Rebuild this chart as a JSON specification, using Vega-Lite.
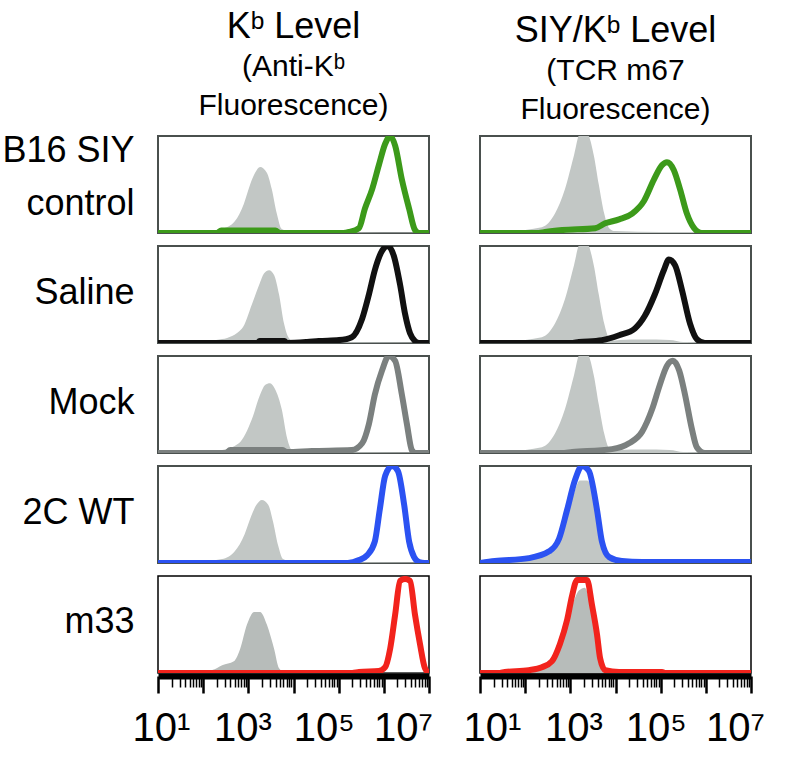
{
  "$schema": "https://vega.github.io/schema/vega-lite/v6.json",
  "background": "white",
  "padding": {"left": 0, "top": 8, "right": 5, "bottom": 5},
  "bounds": "flush",
  "columns": 2,
  "spacing": {"row": 13, "column": 51},
  "config": {"font": "Liberation Sans"},
  "datasets": {
    "hist": [
      {"sample":"B16","marker":"Kb","series":"ctrl","log10":1.0,"count":0.01},
      {"sample":"B16","marker":"Kb","series":"ctrl","log10":1.75,"count":0.01},
      {"sample":"B16","marker":"Kb","series":"ctrl","log10":2.2,"count":0.02},
      {"sample":"B16","marker":"Kb","series":"ctrl","log10":2.42,"count":0.04},
      {"sample":"B16","marker":"Kb","series":"ctrl","log10":2.7,"count":0.12},
      {"sample":"B16","marker":"Kb","series":"ctrl","log10":2.9,"count":0.3},
      {"sample":"B16","marker":"Kb","series":"ctrl","log10":3.04,"count":0.5},
      {"sample":"B16","marker":"Kb","series":"ctrl","log10":3.15,"count":0.62},
      {"sample":"B16","marker":"Kb","series":"ctrl","log10":3.26,"count":0.68},
      {"sample":"B16","marker":"Kb","series":"ctrl","log10":3.41,"count":0.62},
      {"sample":"B16","marker":"Kb","series":"ctrl","log10":3.52,"count":0.45},
      {"sample":"B16","marker":"Kb","series":"ctrl","log10":3.63,"count":0.2},
      {"sample":"B16","marker":"Kb","series":"ctrl","log10":3.74,"count":0.04},
      {"sample":"B16","marker":"Kb","series":"ctrl","log10":3.97,"count":0.01},
      {"sample":"B16","marker":"Kb","series":"ctrl","log10":5.0,"count":0.008},
      {"sample":"B16","marker":"Kb","series":"ctrl","log10":7.0,"count":0.005},
      {"sample":"B16","marker":"Kb","series":"stain","log10":1.0,"count":0},
      {"sample":"B16","marker":"Kb","series":"stain","log10":2.3,"count":0},
      {"sample":"B16","marker":"Kb","series":"stain","log10":2.4,"count":0.025},
      {"sample":"B16","marker":"Kb","series":"stain","log10":3.6,"count":0.025},
      {"sample":"B16","marker":"Kb","series":"stain","log10":3.7,"count":0},
      {"sample":"B16","marker":"Kb","series":"stain","log10":5.1,"count":0},
      {"sample":"B16","marker":"Kb","series":"stain","log10":5.23,"count":0.01},
      {"sample":"B16","marker":"Kb","series":"stain","log10":5.45,"count":0.05},
      {"sample":"B16","marker":"Kb","series":"stain","log10":5.58,"count":0.25},
      {"sample":"B16","marker":"Kb","series":"stain","log10":5.74,"count":0.45},
      {"sample":"B16","marker":"Kb","series":"stain","log10":5.89,"count":0.7},
      {"sample":"B16","marker":"Kb","series":"stain","log10":6.03,"count":0.92},
      {"sample":"B16","marker":"Kb","series":"stain","log10":6.14,"count":1.0},
      {"sample":"B16","marker":"Kb","series":"stain","log10":6.25,"count":0.9},
      {"sample":"B16","marker":"Kb","series":"stain","log10":6.4,"count":0.55},
      {"sample":"B16","marker":"Kb","series":"stain","log10":6.56,"count":0.25},
      {"sample":"B16","marker":"Kb","series":"stain","log10":6.69,"count":0.03},
      {"sample":"B16","marker":"Kb","series":"stain","log10":6.78,"count":0},
      {"sample":"B16","marker":"Kb","series":"stain","log10":7.0,"count":0},

      {"sample":"B16","marker":"SIY","series":"ctrl","log10":1.0,"count":0.01},
      {"sample":"B16","marker":"SIY","series":"ctrl","log10":1.64,"count":0.02},
      {"sample":"B16","marker":"SIY","series":"ctrl","log10":2.37,"count":0.06},
      {"sample":"B16","marker":"SIY","series":"ctrl","log10":2.66,"count":0.2},
      {"sample":"B16","marker":"SIY","series":"ctrl","log10":2.88,"count":0.45},
      {"sample":"B16","marker":"SIY","series":"ctrl","log10":3.08,"count":0.8},
      {"sample":"B16","marker":"SIY","series":"ctrl","log10":3.21,"count":1.02},
      {"sample":"B16","marker":"SIY","series":"ctrl","log10":3.37,"count":1.02},
      {"sample":"B16","marker":"SIY","series":"ctrl","log10":3.52,"count":0.8},
      {"sample":"B16","marker":"SIY","series":"ctrl","log10":3.63,"count":0.5},
      {"sample":"B16","marker":"SIY","series":"ctrl","log10":3.75,"count":0.2},
      {"sample":"B16","marker":"SIY","series":"ctrl","log10":3.86,"count":0.05},
      {"sample":"B16","marker":"SIY","series":"ctrl","log10":3.99,"count":0.02},
      {"sample":"B16","marker":"SIY","series":"ctrl","log10":5.0,"count":0.01},
      {"sample":"B16","marker":"SIY","series":"ctrl","log10":5.91,"count":0.01},
      {"sample":"B16","marker":"SIY","series":"ctrl","log10":7.0,"count":0.005},
      {"sample":"B16","marker":"SIY","series":"stain","log10":1.0,"count":0},
      {"sample":"B16","marker":"SIY","series":"stain","log10":2.3,"count":0},
      {"sample":"B16","marker":"SIY","series":"stain","log10":2.44,"count":0.01},
      {"sample":"B16","marker":"SIY","series":"stain","log10":2.82,"count":0.03},
      {"sample":"B16","marker":"SIY","series":"stain","log10":3.55,"count":0.05},
      {"sample":"B16","marker":"SIY","series":"stain","log10":3.77,"count":0.1},
      {"sample":"B16","marker":"SIY","series":"stain","log10":4.08,"count":0.14},
      {"sample":"B16","marker":"SIY","series":"stain","log10":4.37,"count":0.2},
      {"sample":"B16","marker":"SIY","series":"stain","log10":4.63,"count":0.33},
      {"sample":"B16","marker":"SIY","series":"stain","log10":4.85,"count":0.55},
      {"sample":"B16","marker":"SIY","series":"stain","log10":5.03,"count":0.7},
      {"sample":"B16","marker":"SIY","series":"stain","log10":5.14,"count":0.73},
      {"sample":"B16","marker":"SIY","series":"stain","log10":5.29,"count":0.65},
      {"sample":"B16","marker":"SIY","series":"stain","log10":5.43,"count":0.45},
      {"sample":"B16","marker":"SIY","series":"stain","log10":5.58,"count":0.2},
      {"sample":"B16","marker":"SIY","series":"stain","log10":5.74,"count":0.05},
      {"sample":"B16","marker":"SIY","series":"stain","log10":5.91,"count":0},
      {"sample":"B16","marker":"SIY","series":"stain","log10":7.0,"count":0},

      {"sample":"Saline","marker":"Kb","series":"ctrl","log10":1.0,"count":0.01},
      {"sample":"Saline","marker":"Kb","series":"ctrl","log10":1.75,"count":0.01},
      {"sample":"Saline","marker":"Kb","series":"ctrl","log10":2.42,"count":0.04},
      {"sample":"Saline","marker":"Kb","series":"ctrl","log10":2.86,"count":0.15},
      {"sample":"Saline","marker":"Kb","series":"ctrl","log10":3.08,"count":0.4},
      {"sample":"Saline","marker":"Kb","series":"ctrl","log10":3.24,"count":0.6},
      {"sample":"Saline","marker":"Kb","series":"ctrl","log10":3.35,"count":0.72},
      {"sample":"Saline","marker":"Kb","series":"ctrl","log10":3.46,"count":0.75},
      {"sample":"Saline","marker":"Kb","series":"ctrl","log10":3.57,"count":0.7},
      {"sample":"Saline","marker":"Kb","series":"ctrl","log10":3.68,"count":0.5},
      {"sample":"Saline","marker":"Kb","series":"ctrl","log10":3.79,"count":0.2},
      {"sample":"Saline","marker":"Kb","series":"ctrl","log10":3.9,"count":0.05},
      {"sample":"Saline","marker":"Kb","series":"ctrl","log10":4.03,"count":0.01},
      {"sample":"Saline","marker":"Kb","series":"ctrl","log10":7.0,"count":0.005},
      {"sample":"Saline","marker":"Kb","series":"stain","log10":1.0,"count":0},
      {"sample":"Saline","marker":"Kb","series":"stain","log10":3.2,"count":0},
      {"sample":"Saline","marker":"Kb","series":"stain","log10":3.25,"count":0.02},
      {"sample":"Saline","marker":"Kb","series":"stain","log10":3.8,"count":0.02},
      {"sample":"Saline","marker":"Kb","series":"stain","log10":3.85,"count":0},
      {"sample":"Saline","marker":"Kb","series":"stain","log10":4.3,"count":0.01},
      {"sample":"Saline","marker":"Kb","series":"stain","log10":4.56,"count":0.02},
      {"sample":"Saline","marker":"Kb","series":"stain","log10":5.01,"count":0.03},
      {"sample":"Saline","marker":"Kb","series":"stain","log10":5.29,"count":0.06},
      {"sample":"Saline","marker":"Kb","series":"stain","log10":5.52,"count":0.25},
      {"sample":"Saline","marker":"Kb","series":"stain","log10":5.67,"count":0.5},
      {"sample":"Saline","marker":"Kb","series":"stain","log10":5.8,"count":0.75},
      {"sample":"Saline","marker":"Kb","series":"stain","log10":5.96,"count":0.95},
      {"sample":"Saline","marker":"Kb","series":"stain","log10":6.09,"count":1.0},
      {"sample":"Saline","marker":"Kb","series":"stain","log10":6.22,"count":0.9},
      {"sample":"Saline","marker":"Kb","series":"stain","log10":6.36,"count":0.6},
      {"sample":"Saline","marker":"Kb","series":"stain","log10":6.47,"count":0.3},
      {"sample":"Saline","marker":"Kb","series":"stain","log10":6.58,"count":0.1},
      {"sample":"Saline","marker":"Kb","series":"stain","log10":6.69,"count":0.02},
      {"sample":"Saline","marker":"Kb","series":"stain","log10":6.78,"count":0},
      {"sample":"Saline","marker":"Kb","series":"stain","log10":7.0,"count":0},

      {"sample":"Saline","marker":"SIY","series":"ctrl","log10":1.0,"count":0.01},
      {"sample":"Saline","marker":"SIY","series":"ctrl","log10":1.64,"count":0.02},
      {"sample":"Saline","marker":"SIY","series":"ctrl","log10":2.37,"count":0.06},
      {"sample":"Saline","marker":"SIY","series":"ctrl","log10":2.66,"count":0.2},
      {"sample":"Saline","marker":"SIY","series":"ctrl","log10":2.88,"count":0.45},
      {"sample":"Saline","marker":"SIY","series":"ctrl","log10":3.08,"count":0.8},
      {"sample":"Saline","marker":"SIY","series":"ctrl","log10":3.21,"count":1.02},
      {"sample":"Saline","marker":"SIY","series":"ctrl","log10":3.37,"count":1.02},
      {"sample":"Saline","marker":"SIY","series":"ctrl","log10":3.52,"count":0.8},
      {"sample":"Saline","marker":"SIY","series":"ctrl","log10":3.63,"count":0.5},
      {"sample":"Saline","marker":"SIY","series":"ctrl","log10":3.75,"count":0.2},
      {"sample":"Saline","marker":"SIY","series":"ctrl","log10":3.86,"count":0.05},
      {"sample":"Saline","marker":"SIY","series":"ctrl","log10":3.99,"count":0.025},
      {"sample":"Saline","marker":"SIY","series":"ctrl","log10":4.1,"count":0.03},
      {"sample":"Saline","marker":"SIY","series":"ctrl","log10":4.6,"count":0.035},
      {"sample":"Saline","marker":"SIY","series":"ctrl","log10":5.2,"count":0.03},
      {"sample":"Saline","marker":"SIY","series":"ctrl","log10":5.5,"count":0.01},
      {"sample":"Saline","marker":"SIY","series":"ctrl","log10":7.0,"count":0.005},
      {"sample":"Saline","marker":"SIY","series":"stain","log10":1.0,"count":0},
      {"sample":"Saline","marker":"SIY","series":"stain","log10":3.0,"count":0},
      {"sample":"Saline","marker":"SIY","series":"stain","log10":3.19,"count":0.01},
      {"sample":"Saline","marker":"SIY","series":"stain","log10":3.7,"count":0.03},
      {"sample":"Saline","marker":"SIY","series":"stain","log10":4.08,"count":0.08},
      {"sample":"Saline","marker":"SIY","series":"stain","log10":4.43,"count":0.15},
      {"sample":"Saline","marker":"SIY","series":"stain","log10":4.65,"count":0.28},
      {"sample":"Saline","marker":"SIY","series":"stain","log10":4.87,"count":0.5},
      {"sample":"Saline","marker":"SIY","series":"stain","log10":5.07,"count":0.75},
      {"sample":"Saline","marker":"SIY","series":"stain","log10":5.18,"count":0.86},
      {"sample":"Saline","marker":"SIY","series":"stain","log10":5.32,"count":0.8},
      {"sample":"Saline","marker":"SIY","series":"stain","log10":5.47,"count":0.55},
      {"sample":"Saline","marker":"SIY","series":"stain","log10":5.65,"count":0.2},
      {"sample":"Saline","marker":"SIY","series":"stain","log10":5.8,"count":0.04},
      {"sample":"Saline","marker":"SIY","series":"stain","log10":5.98,"count":0},
      {"sample":"Saline","marker":"SIY","series":"stain","log10":7.0,"count":0},

      {"sample":"Mock","marker":"Kb","series":"ctrl","log10":1.0,"count":0.01},
      {"sample":"Mock","marker":"Kb","series":"ctrl","log10":1.75,"count":0.01},
      {"sample":"Mock","marker":"Kb","series":"ctrl","log10":2.42,"count":0.03},
      {"sample":"Mock","marker":"Kb","series":"ctrl","log10":2.79,"count":0.1},
      {"sample":"Mock","marker":"Kb","series":"ctrl","log10":3.08,"count":0.35},
      {"sample":"Mock","marker":"Kb","series":"ctrl","log10":3.26,"count":0.6},
      {"sample":"Mock","marker":"Kb","series":"ctrl","log10":3.37,"count":0.7},
      {"sample":"Mock","marker":"Kb","series":"ctrl","log10":3.48,"count":0.72},
      {"sample":"Mock","marker":"Kb","series":"ctrl","log10":3.59,"count":0.66},
      {"sample":"Mock","marker":"Kb","series":"ctrl","log10":3.74,"count":0.45},
      {"sample":"Mock","marker":"Kb","series":"ctrl","log10":3.86,"count":0.15},
      {"sample":"Mock","marker":"Kb","series":"ctrl","log10":3.97,"count":0.03},
      {"sample":"Mock","marker":"Kb","series":"ctrl","log10":4.25,"count":0.01},
      {"sample":"Mock","marker":"Kb","series":"ctrl","log10":7.0,"count":0.005},
      {"sample":"Mock","marker":"Kb","series":"stain","log10":1.0,"count":0},
      {"sample":"Mock","marker":"Kb","series":"stain","log10":2.5,"count":0},
      {"sample":"Mock","marker":"Kb","series":"stain","log10":2.6,"count":0.03},
      {"sample":"Mock","marker":"Kb","series":"stain","log10":3.75,"count":0.03},
      {"sample":"Mock","marker":"Kb","series":"stain","log10":3.85,"count":0.01},
      {"sample":"Mock","marker":"Kb","series":"stain","log10":4.41,"count":0.02},
      {"sample":"Mock","marker":"Kb","series":"stain","log10":5.29,"count":0.03},
      {"sample":"Mock","marker":"Kb","series":"stain","log10":5.52,"count":0.1},
      {"sample":"Mock","marker":"Kb","series":"stain","log10":5.67,"count":0.3},
      {"sample":"Mock","marker":"Kb","series":"stain","log10":5.8,"count":0.6},
      {"sample":"Mock","marker":"Kb","series":"stain","log10":5.96,"count":0.85},
      {"sample":"Mock","marker":"Kb","series":"stain","log10":6.11,"count":1.0},
      {"sample":"Mock","marker":"Kb","series":"stain","log10":6.25,"count":0.95},
      {"sample":"Mock","marker":"Kb","series":"stain","log10":6.4,"count":0.6},
      {"sample":"Mock","marker":"Kb","series":"stain","log10":6.51,"count":0.3},
      {"sample":"Mock","marker":"Kb","series":"stain","log10":6.62,"count":0.03},
      {"sample":"Mock","marker":"Kb","series":"stain","log10":6.7,"count":0},
      {"sample":"Mock","marker":"Kb","series":"stain","log10":7.0,"count":0},

      {"sample":"Mock","marker":"SIY","series":"ctrl","log10":1.0,"count":0.01},
      {"sample":"Mock","marker":"SIY","series":"ctrl","log10":1.64,"count":0.02},
      {"sample":"Mock","marker":"SIY","series":"ctrl","log10":2.37,"count":0.06},
      {"sample":"Mock","marker":"SIY","series":"ctrl","log10":2.66,"count":0.2},
      {"sample":"Mock","marker":"SIY","series":"ctrl","log10":2.88,"count":0.45},
      {"sample":"Mock","marker":"SIY","series":"ctrl","log10":3.08,"count":0.8},
      {"sample":"Mock","marker":"SIY","series":"ctrl","log10":3.21,"count":1.02},
      {"sample":"Mock","marker":"SIY","series":"ctrl","log10":3.37,"count":1.02},
      {"sample":"Mock","marker":"SIY","series":"ctrl","log10":3.52,"count":0.8},
      {"sample":"Mock","marker":"SIY","series":"ctrl","log10":3.63,"count":0.5},
      {"sample":"Mock","marker":"SIY","series":"ctrl","log10":3.75,"count":0.2},
      {"sample":"Mock","marker":"SIY","series":"ctrl","log10":3.86,"count":0.05},
      {"sample":"Mock","marker":"SIY","series":"ctrl","log10":3.99,"count":0.025},
      {"sample":"Mock","marker":"SIY","series":"ctrl","log10":4.1,"count":0.03},
      {"sample":"Mock","marker":"SIY","series":"ctrl","log10":4.6,"count":0.035},
      {"sample":"Mock","marker":"SIY","series":"ctrl","log10":5.2,"count":0.03},
      {"sample":"Mock","marker":"SIY","series":"ctrl","log10":5.5,"count":0.01},
      {"sample":"Mock","marker":"SIY","series":"ctrl","log10":7.0,"count":0.005},
      {"sample":"Mock","marker":"SIY","series":"stain","log10":1.0,"count":0},
      {"sample":"Mock","marker":"SIY","series":"stain","log10":2.8,"count":0},
      {"sample":"Mock","marker":"SIY","series":"stain","log10":3.04,"count":0.01},
      {"sample":"Mock","marker":"SIY","series":"stain","log10":3.92,"count":0.04},
      {"sample":"Mock","marker":"SIY","series":"stain","log10":4.3,"count":0.1},
      {"sample":"Mock","marker":"SIY","series":"stain","log10":4.59,"count":0.22},
      {"sample":"Mock","marker":"SIY","series":"stain","log10":4.81,"count":0.45},
      {"sample":"Mock","marker":"SIY","series":"stain","log10":4.98,"count":0.7},
      {"sample":"Mock","marker":"SIY","series":"stain","log10":5.14,"count":0.9},
      {"sample":"Mock","marker":"SIY","series":"stain","log10":5.27,"count":0.95},
      {"sample":"Mock","marker":"SIY","series":"stain","log10":5.41,"count":0.85},
      {"sample":"Mock","marker":"SIY","series":"stain","log10":5.54,"count":0.6},
      {"sample":"Mock","marker":"SIY","series":"stain","log10":5.69,"count":0.25},
      {"sample":"Mock","marker":"SIY","series":"stain","log10":5.8,"count":0.06},
      {"sample":"Mock","marker":"SIY","series":"stain","log10":5.98,"count":0},
      {"sample":"Mock","marker":"SIY","series":"stain","log10":7.0,"count":0},

      {"sample":"2C","marker":"Kb","series":"ctrl","log10":1.0,"count":0.01},
      {"sample":"2C","marker":"Kb","series":"ctrl","log10":1.75,"count":0.01},
      {"sample":"2C","marker":"Kb","series":"ctrl","log10":2.42,"count":0.04},
      {"sample":"2C","marker":"Kb","series":"ctrl","log10":2.7,"count":0.12},
      {"sample":"2C","marker":"Kb","series":"ctrl","log10":2.92,"count":0.3},
      {"sample":"2C","marker":"Kb","series":"ctrl","log10":3.06,"count":0.48},
      {"sample":"2C","marker":"Kb","series":"ctrl","log10":3.18,"count":0.6},
      {"sample":"2C","marker":"Kb","series":"ctrl","log10":3.3,"count":0.65},
      {"sample":"2C","marker":"Kb","series":"ctrl","log10":3.44,"count":0.6},
      {"sample":"2C","marker":"Kb","series":"ctrl","log10":3.55,"count":0.42},
      {"sample":"2C","marker":"Kb","series":"ctrl","log10":3.66,"count":0.18},
      {"sample":"2C","marker":"Kb","series":"ctrl","log10":3.77,"count":0.04},
      {"sample":"2C","marker":"Kb","series":"ctrl","log10":4.0,"count":0.01},
      {"sample":"2C","marker":"Kb","series":"ctrl","log10":7.0,"count":0.005},
      {"sample":"2C","marker":"Kb","series":"stain","log10":1.0,"count":0},
      {"sample":"2C","marker":"Kb","series":"stain","log10":5.2,"count":0},
      {"sample":"2C","marker":"Kb","series":"stain","log10":5.45,"count":0.03},
      {"sample":"2C","marker":"Kb","series":"stain","log10":5.63,"count":0.08},
      {"sample":"2C","marker":"Kb","series":"stain","log10":5.8,"count":0.22},
      {"sample":"2C","marker":"Kb","series":"stain","log10":5.91,"count":0.55},
      {"sample":"2C","marker":"Kb","series":"stain","log10":6.03,"count":0.9},
      {"sample":"2C","marker":"Kb","series":"stain","log10":6.18,"count":1.0},
      {"sample":"2C","marker":"Kb","series":"stain","log10":6.31,"count":0.95},
      {"sample":"2C","marker":"Kb","series":"stain","log10":6.45,"count":0.6},
      {"sample":"2C","marker":"Kb","series":"stain","log10":6.56,"count":0.22},
      {"sample":"2C","marker":"Kb","series":"stain","log10":6.67,"count":0.06},
      {"sample":"2C","marker":"Kb","series":"stain","log10":6.78,"count":0.01},
      {"sample":"2C","marker":"Kb","series":"stain","log10":6.9,"count":0},
      {"sample":"2C","marker":"Kb","series":"stain","log10":7.0,"count":0},

      {"sample":"2C","marker":"SIY","series":"ctrl","log10":1.0,"count":0.01},
      {"sample":"2C","marker":"SIY","series":"ctrl","log10":1.64,"count":0.02},
      {"sample":"2C","marker":"SIY","series":"ctrl","log10":2.37,"count":0.06},
      {"sample":"2C","marker":"SIY","series":"ctrl","log10":2.66,"count":0.2},
      {"sample":"2C","marker":"SIY","series":"ctrl","log10":2.88,"count":0.42},
      {"sample":"2C","marker":"SIY","series":"ctrl","log10":3.08,"count":0.72},
      {"sample":"2C","marker":"SIY","series":"ctrl","log10":3.21,"count":0.85},
      {"sample":"2C","marker":"SIY","series":"ctrl","log10":3.37,"count":0.85},
      {"sample":"2C","marker":"SIY","series":"ctrl","log10":3.52,"count":0.7},
      {"sample":"2C","marker":"SIY","series":"ctrl","log10":3.63,"count":0.45},
      {"sample":"2C","marker":"SIY","series":"ctrl","log10":3.75,"count":0.18},
      {"sample":"2C","marker":"SIY","series":"ctrl","log10":3.86,"count":0.05},
      {"sample":"2C","marker":"SIY","series":"ctrl","log10":3.99,"count":0.02},
      {"sample":"2C","marker":"SIY","series":"ctrl","log10":5.0,"count":0.01},
      {"sample":"2C","marker":"SIY","series":"ctrl","log10":7.0,"count":0.005},
      {"sample":"2C","marker":"SIY","series":"stain","log10":1.0,"count":0},
      {"sample":"2C","marker":"SIY","series":"stain","log10":1.33,"count":0.02},
      {"sample":"2C","marker":"SIY","series":"stain","log10":2.08,"count":0.05},
      {"sample":"2C","marker":"SIY","series":"stain","log10":2.53,"count":0.12},
      {"sample":"2C","marker":"SIY","series":"stain","log10":2.75,"count":0.25},
      {"sample":"2C","marker":"SIY","series":"stain","log10":2.93,"count":0.55},
      {"sample":"2C","marker":"SIY","series":"stain","log10":3.1,"count":0.85},
      {"sample":"2C","marker":"SIY","series":"stain","log10":3.26,"count":1.0},
      {"sample":"2C","marker":"SIY","series":"stain","log10":3.41,"count":0.95},
      {"sample":"2C","marker":"SIY","series":"stain","log10":3.59,"count":0.55},
      {"sample":"2C","marker":"SIY","series":"stain","log10":3.7,"count":0.22},
      {"sample":"2C","marker":"SIY","series":"stain","log10":3.86,"count":0.06},
      {"sample":"2C","marker":"SIY","series":"stain","log10":4.14,"count":0.02},
      {"sample":"2C","marker":"SIY","series":"stain","log10":4.59,"count":0.01},
      {"sample":"2C","marker":"SIY","series":"stain","log10":7.0,"count":0.01},

      {"sample":"m33","marker":"Kb","series":"ctrl","log10":1.0,"count":0.005},
      {"sample":"m33","marker":"Kb","series":"ctrl","log10":1.75,"count":0.01},
      {"sample":"m33","marker":"Kb","series":"ctrl","log10":2.2,"count":0.03},
      {"sample":"m33","marker":"Kb","series":"ctrl","log10":2.42,"count":0.08},
      {"sample":"m33","marker":"Kb","series":"ctrl","log10":2.68,"count":0.12},
      {"sample":"m33","marker":"Kb","series":"ctrl","log10":2.82,"count":0.25},
      {"sample":"m33","marker":"Kb","series":"ctrl","log10":2.97,"count":0.5},
      {"sample":"m33","marker":"Kb","series":"ctrl","log10":3.13,"count":0.63},
      {"sample":"m33","marker":"Kb","series":"ctrl","log10":3.26,"count":0.63},
      {"sample":"m33","marker":"Kb","series":"ctrl","log10":3.41,"count":0.5},
      {"sample":"m33","marker":"Kb","series":"ctrl","log10":3.57,"count":0.25},
      {"sample":"m33","marker":"Kb","series":"ctrl","log10":3.68,"count":0.05},
      {"sample":"m33","marker":"Kb","series":"ctrl","log10":3.81,"count":0.01},
      {"sample":"m33","marker":"Kb","series":"ctrl","log10":4.5,"count":0.01},
      {"sample":"m33","marker":"Kb","series":"ctrl","log10":4.8,"count":0.005},
      {"sample":"m33","marker":"Kb","series":"ctrl","log10":7.0,"count":0.003},
      {"sample":"m33","marker":"Kb","series":"stain","log10":1.0,"count":0},
      {"sample":"m33","marker":"Kb","series":"stain","log10":5.3,"count":0},
      {"sample":"m33","marker":"Kb","series":"stain","log10":5.45,"count":0.01},
      {"sample":"m33","marker":"Kb","series":"stain","log10":5.89,"count":0.02},
      {"sample":"m33","marker":"Kb","series":"stain","log10":6.03,"count":0.06},
      {"sample":"m33","marker":"Kb","series":"stain","log10":6.14,"count":0.25},
      {"sample":"m33","marker":"Kb","series":"stain","log10":6.25,"count":0.6},
      {"sample":"m33","marker":"Kb","series":"stain","log10":6.36,"count":0.95},
      {"sample":"m33","marker":"Kb","series":"stain","log10":6.47,"count":0.97},
      {"sample":"m33","marker":"Kb","series":"stain","log10":6.58,"count":0.95},
      {"sample":"m33","marker":"Kb","series":"stain","log10":6.69,"count":0.6},
      {"sample":"m33","marker":"Kb","series":"stain","log10":6.8,"count":0.3},
      {"sample":"m33","marker":"Kb","series":"stain","log10":6.91,"count":0.05},
      {"sample":"m33","marker":"Kb","series":"stain","log10":7.0,"count":0},

      {"sample":"m33","marker":"SIY","series":"ctrl","log10":1.0,"count":0.005},
      {"sample":"m33","marker":"SIY","series":"ctrl","log10":1.71,"count":0.01},
      {"sample":"m33","marker":"SIY","series":"ctrl","log10":2.37,"count":0.04},
      {"sample":"m33","marker":"SIY","series":"ctrl","log10":2.59,"count":0.1},
      {"sample":"m33","marker":"SIY","series":"ctrl","log10":2.75,"count":0.35},
      {"sample":"m33","marker":"SIY","series":"ctrl","log10":2.88,"count":0.55},
      {"sample":"m33","marker":"SIY","series":"ctrl","log10":3.04,"count":0.7},
      {"sample":"m33","marker":"SIY","series":"ctrl","log10":3.19,"count":0.85},
      {"sample":"m33","marker":"SIY","series":"ctrl","log10":3.32,"count":0.88},
      {"sample":"m33","marker":"SIY","series":"ctrl","log10":3.44,"count":0.7},
      {"sample":"m33","marker":"SIY","series":"ctrl","log10":3.55,"count":0.4},
      {"sample":"m33","marker":"SIY","series":"ctrl","log10":3.63,"count":0.15},
      {"sample":"m33","marker":"SIY","series":"ctrl","log10":3.7,"count":0.04},
      {"sample":"m33","marker":"SIY","series":"ctrl","log10":3.86,"count":0.01},
      {"sample":"m33","marker":"SIY","series":"ctrl","log10":7.0,"count":0.003},
      {"sample":"m33","marker":"SIY","series":"stain","log10":1.0,"count":0},
      {"sample":"m33","marker":"SIY","series":"stain","log10":1.4,"count":0},
      {"sample":"m33","marker":"SIY","series":"stain","log10":1.55,"count":0.01},
      {"sample":"m33","marker":"SIY","series":"stain","log10":2.08,"count":0.03},
      {"sample":"m33","marker":"SIY","series":"stain","log10":2.37,"count":0.06},
      {"sample":"m33","marker":"SIY","series":"stain","log10":2.59,"count":0.12},
      {"sample":"m33","marker":"SIY","series":"stain","log10":2.77,"count":0.3},
      {"sample":"m33","marker":"SIY","series":"stain","log10":2.93,"count":0.55},
      {"sample":"m33","marker":"SIY","series":"stain","log10":3.04,"count":0.8},
      {"sample":"m33","marker":"SIY","series":"stain","log10":3.15,"count":0.96},
      {"sample":"m33","marker":"SIY","series":"stain","log10":3.37,"count":0.96},
      {"sample":"m33","marker":"SIY","series":"stain","log10":3.48,"count":0.7},
      {"sample":"m33","marker":"SIY","series":"stain","log10":3.59,"count":0.4},
      {"sample":"m33","marker":"SIY","series":"stain","log10":3.66,"count":0.15},
      {"sample":"m33","marker":"SIY","series":"stain","log10":3.77,"count":0.03},
      {"sample":"m33","marker":"SIY","series":"stain","log10":4.08,"count":0.01},
      {"sample":"m33","marker":"SIY","series":"stain","log10":5.03,"count":0.01},
      {"sample":"m33","marker":"SIY","series":"stain","log10":5.1,"count":0},
      {"sample":"m33","marker":"SIY","series":"stain","log10":7.0,"count":0}
    ]
  },
  "concat": [
    {
      "width": 271, "height": 97,
      "view": {"stroke": "#4a504e", "strokeWidth": 2},
      "title": {"text": "Kᵇ Level", "subtitle": ["(Anti-Kᵇ", "Fluorescence)"], "fontSize": 36, "subtitleFontSize": 30, "font": "Liberation Sans", "subtitleFont": "Liberation Sans", "fontWeight": "normal", "anchor": "middle", "frame": "group", "offset": 10, "subtitlePadding": 6, "subtitleLineHeight": 39, "color": "#000", "subtitleColor": "#000"},
      "data": {"name": "hist"},
      "transform": [{"filter": "datum.sample == 'B16' && datum.marker == 'Kb'"}],
      "encoding": {
        "x": {"field": "log10", "type": "quantitative", "scale": {"domain": [1, 7], "nice": false, "zero": false}, "axis": null},
        "y": {"field": "count", "type": "quantitative", "scale": {"domain": [0, 1], "nice": false}, "axis": {"title": ["B16 SIY", "control"], "titleAngle": 0, "titleAlign": "right", "titleBaseline": "middle", "titleX": -24, "titleY": 14, "titleLineHeight": 53, "titleFontSize": 36, "titleFontWeight": "normal", "titleFont": "Liberation Sans", "titleColor": "#000", "labels": false, "ticks": false, "domain": false, "grid": false}}
      },
      "layer": [
        {"transform": [{"filter": "datum.series == 'ctrl'"}], "mark": {"type": "area", "color": "#c2c7c5", "interpolate": "monotone", "clip": true}},
        {"transform": [{"filter": "datum.series == 'stain'"}], "mark": {"type": "line", "color": "#3c9a1a", "strokeWidth": 6, "interpolate": "monotone", "clip": true}}
      ]
    },
    {
      "width": 271, "height": 97,
      "view": {"stroke": "#4a504e", "strokeWidth": 2},
      "title": {"text": "SIY/Kᵇ Level", "subtitle": ["(TCR m67", "Fluorescence)"], "fontSize": 36, "subtitleFontSize": 30, "font": "Liberation Sans", "subtitleFont": "Liberation Sans", "fontWeight": "normal", "anchor": "middle", "frame": "group", "offset": 10, "subtitlePadding": 6, "subtitleLineHeight": 39, "color": "#000", "subtitleColor": "#000"},
      "data": {"name": "hist"},
      "transform": [{"filter": "datum.sample == 'B16' && datum.marker == 'SIY'"}],
      "encoding": {
        "x": {"field": "log10", "type": "quantitative", "scale": {"domain": [1, 7], "nice": false, "zero": false}, "axis": null},
        "y": {"field": "count", "type": "quantitative", "scale": {"domain": [0, 1], "nice": false}, "axis": null}
      },
      "layer": [
        {"transform": [{"filter": "datum.series == 'ctrl'"}], "mark": {"type": "area", "color": "#c2c7c5", "interpolate": "monotone", "clip": true}},
        {"transform": [{"filter": "datum.series == 'stain'"}], "mark": {"type": "line", "color": "#3c9a1a", "strokeWidth": 6, "interpolate": "monotone", "clip": true}}
      ]
    },
    {
      "width": 271, "height": 97,
      "view": {"stroke": "#4a504e", "strokeWidth": 2},
      "data": {"name": "hist"},
      "transform": [{"filter": "datum.sample == 'Saline' && datum.marker == 'Kb'"}],
      "encoding": {
        "x": {"field": "log10", "type": "quantitative", "scale": {"domain": [1, 7], "nice": false, "zero": false}, "axis": null},
        "y": {"field": "count", "type": "quantitative", "scale": {"domain": [0, 1], "nice": false}, "axis": {"title": "Saline", "titleAngle": 0, "titleAlign": "right", "titleBaseline": "middle", "titleX": -24, "titleY": 46, "titleFontSize": 36, "titleFontWeight": "normal", "titleFont": "Liberation Sans", "titleColor": "#000", "labels": false, "ticks": false, "domain": false, "grid": false}}
      },
      "layer": [
        {"transform": [{"filter": "datum.series == 'ctrl'"}], "mark": {"type": "area", "color": "#c2c7c5", "interpolate": "monotone", "clip": true}},
        {"transform": [{"filter": "datum.series == 'stain'"}], "mark": {"type": "line", "color": "#111111", "strokeWidth": 6, "interpolate": "monotone", "clip": true}}
      ]
    },
    {
      "width": 271, "height": 97,
      "view": {"stroke": "#4a504e", "strokeWidth": 2},
      "data": {"name": "hist"},
      "transform": [{"filter": "datum.sample == 'Saline' && datum.marker == 'SIY'"}],
      "encoding": {
        "x": {"field": "log10", "type": "quantitative", "scale": {"domain": [1, 7], "nice": false, "zero": false}, "axis": null},
        "y": {"field": "count", "type": "quantitative", "scale": {"domain": [0, 1], "nice": false}, "axis": null}
      },
      "layer": [
        {"transform": [{"filter": "datum.series == 'ctrl'"}], "mark": {"type": "area", "color": "#c2c7c5", "interpolate": "monotone", "clip": true}},
        {"transform": [{"filter": "datum.series == 'stain'"}], "mark": {"type": "line", "color": "#111111", "strokeWidth": 6, "interpolate": "monotone", "clip": true}}
      ]
    },
    {
      "width": 271, "height": 97,
      "view": {"stroke": "#4a504e", "strokeWidth": 2},
      "data": {"name": "hist"},
      "transform": [{"filter": "datum.sample == 'Mock' && datum.marker == 'Kb'"}],
      "encoding": {
        "x": {"field": "log10", "type": "quantitative", "scale": {"domain": [1, 7], "nice": false, "zero": false}, "axis": null},
        "y": {"field": "count", "type": "quantitative", "scale": {"domain": [0, 1], "nice": false}, "axis": {"title": "Mock", "titleAngle": 0, "titleAlign": "right", "titleBaseline": "middle", "titleX": -24, "titleY": 46, "titleFontSize": 36, "titleFontWeight": "normal", "titleFont": "Liberation Sans", "titleColor": "#000", "labels": false, "ticks": false, "domain": false, "grid": false}}
      },
      "layer": [
        {"transform": [{"filter": "datum.series == 'ctrl'"}], "mark": {"type": "area", "color": "#c2c7c5", "interpolate": "monotone", "clip": true}},
        {"transform": [{"filter": "datum.series == 'stain'"}], "mark": {"type": "line", "color": "#7b807f", "strokeWidth": 6, "interpolate": "monotone", "clip": true}}
      ]
    },
    {
      "width": 271, "height": 97,
      "view": {"stroke": "#4a504e", "strokeWidth": 2},
      "data": {"name": "hist"},
      "transform": [{"filter": "datum.sample == 'Mock' && datum.marker == 'SIY'"}],
      "encoding": {
        "x": {"field": "log10", "type": "quantitative", "scale": {"domain": [1, 7], "nice": false, "zero": false}, "axis": null},
        "y": {"field": "count", "type": "quantitative", "scale": {"domain": [0, 1], "nice": false}, "axis": null}
      },
      "layer": [
        {"transform": [{"filter": "datum.series == 'ctrl'"}], "mark": {"type": "area", "color": "#c2c7c5", "interpolate": "monotone", "clip": true}},
        {"transform": [{"filter": "datum.series == 'stain'"}], "mark": {"type": "line", "color": "#7b807f", "strokeWidth": 6, "interpolate": "monotone", "clip": true}}
      ]
    },
    {
      "width": 271, "height": 97,
      "view": {"stroke": "#4a504e", "strokeWidth": 2},
      "data": {"name": "hist"},
      "transform": [{"filter": "datum.sample == '2C' && datum.marker == 'Kb'"}],
      "encoding": {
        "x": {"field": "log10", "type": "quantitative", "scale": {"domain": [1, 7], "nice": false, "zero": false}, "axis": null},
        "y": {"field": "count", "type": "quantitative", "scale": {"domain": [0, 1], "nice": false}, "axis": {"title": "2C WT", "titleAngle": 0, "titleAlign": "right", "titleBaseline": "middle", "titleX": -24, "titleY": 46, "titleFontSize": 36, "titleFontWeight": "normal", "titleFont": "Liberation Sans", "titleColor": "#000", "labels": false, "ticks": false, "domain": false, "grid": false}}
      },
      "layer": [
        {"transform": [{"filter": "datum.series == 'ctrl'"}], "mark": {"type": "area", "color": "#c2c7c5", "interpolate": "monotone", "clip": true}},
        {"transform": [{"filter": "datum.series == 'stain'"}], "mark": {"type": "line", "color": "#2b52f2", "strokeWidth": 6, "interpolate": "monotone", "clip": true}}
      ]
    },
    {
      "width": 271, "height": 97,
      "view": {"stroke": "#4a504e", "strokeWidth": 2},
      "data": {"name": "hist"},
      "transform": [{"filter": "datum.sample == '2C' && datum.marker == 'SIY'"}],
      "encoding": {
        "x": {"field": "log10", "type": "quantitative", "scale": {"domain": [1, 7], "nice": false, "zero": false}, "axis": null},
        "y": {"field": "count", "type": "quantitative", "scale": {"domain": [0, 1], "nice": false}, "axis": null}
      },
      "layer": [
        {"transform": [{"filter": "datum.series == 'ctrl'"}], "mark": {"type": "area", "color": "#c2c7c5", "interpolate": "monotone", "clip": true}},
        {"transform": [{"filter": "datum.series == 'stain'"}], "mark": {"type": "line", "color": "#2b52f2", "strokeWidth": 6, "interpolate": "monotone", "clip": true}}
      ]
    },
    {
      "width": 271, "height": 97,
      "view": {"stroke": "#000000", "strokeWidth": 1.5},
      "data": {"name": "hist"},
      "transform": [{"filter": "datum.sample == 'm33' && datum.marker == 'Kb'"}],
      "encoding": {
        "x": {"field": "log10", "type": "quantitative", "scale": {"domain": [1, 7], "nice": false, "zero": false},
          "axis": {
            "values": [1,1.30103,1.47712,1.60206,1.69897,1.77815,1.8451,1.90309,1.95424,2,2.30103,2.47712,2.60206,2.69897,2.77815,2.8451,2.90309,2.95424,3,3.30103,3.47712,3.60206,3.69897,3.77815,3.8451,3.90309,3.95424,4,4.30103,4.47712,4.60206,4.69897,4.77815,4.8451,4.90309,4.95424,5,5.30103,5.47712,5.60206,5.69897,5.77815,5.8451,5.90309,5.95424,6,6.30103,6.47712,6.60206,6.69897,6.77815,6.8451,6.90309,6.95424,7],
            "labelExpr": "datum.value == 1 ? '10¹' : datum.value == 3 ? '10³' : datum.value == 5 ? '10⁵' : datum.value == 7 ? '10⁷' : ''",
            "labelFontSize": 40, "labelFont": "Liberation Sans", "labelColor": "#000", "labelOverlap": false, "labelFlush": false, "labelBound": false, "labelPadding": 15,
            "labelOffset": {"condition": [{"test": "datum.value == 7", "value": -26}, {"test": "datum.value == 5", "value": -15}, {"test": "datum.value == 3", "value": -6}], "value": 3},
            "domainColor": "#000", "domainWidth": 6, "offset": 3,
            "tickColor": "#000",
            "tickSize": {"condition": {"test": "datum.value % 1 == 0", "value": 17}, "value": 11},
            "tickWidth": {"condition": {"test": "datum.value % 1 == 0", "value": 2.5}, "value": 1.5},
            "grid": false, "title": null
          }},
        "y": {"field": "count", "type": "quantitative", "scale": {"domain": [0, 1], "nice": false}, "axis": {"title": "m33", "titleAngle": 0, "titleAlign": "right", "titleBaseline": "middle", "titleX": -24, "titleY": 45, "titleFontSize": 36, "titleFontWeight": "normal", "titleFont": "Liberation Sans", "titleColor": "#000", "labels": false, "ticks": false, "domain": false, "grid": false}}
      },
      "layer": [
        {"transform": [{"filter": "datum.series == 'ctrl'"}], "mark": {"type": "area", "color": "#b7bcba", "interpolate": "monotone", "clip": true}},
        {"transform": [{"filter": "datum.series == 'stain'"}], "mark": {"type": "line", "color": "#f2231c", "strokeWidth": 6, "interpolate": "monotone", "clip": true}}
      ]
    },
    {
      "width": 271, "height": 97,
      "view": {"stroke": "#000000", "strokeWidth": 1.5},
      "data": {"name": "hist"},
      "transform": [{"filter": "datum.sample == 'm33' && datum.marker == 'SIY'"}],
      "encoding": {
        "x": {"field": "log10", "type": "quantitative", "scale": {"domain": [1, 7], "nice": false, "zero": false},
          "axis": {
            "values": [1,1.30103,1.47712,1.60206,1.69897,1.77815,1.8451,1.90309,1.95424,2,2.30103,2.47712,2.60206,2.69897,2.77815,2.8451,2.90309,2.95424,3,3.30103,3.47712,3.60206,3.69897,3.77815,3.8451,3.90309,3.95424,4,4.30103,4.47712,4.60206,4.69897,4.77815,4.8451,4.90309,4.95424,5,5.30103,5.47712,5.60206,5.69897,5.77815,5.8451,5.90309,5.95424,6,6.30103,6.47712,6.60206,6.69897,6.77815,6.8451,6.90309,6.95424,7],
            "labelExpr": "datum.value == 1 ? '10¹' : datum.value == 3 ? '10³' : datum.value == 5 ? '10⁵' : datum.value == 7 ? '10⁷' : ''",
            "labelFontSize": 40, "labelFont": "Liberation Sans", "labelColor": "#000", "labelOverlap": false, "labelFlush": false, "labelBound": false, "labelPadding": 15,
            "labelOffset": {"condition": [{"test": "datum.value == 7", "value": -16}, {"test": "datum.value == 5", "value": -5}, {"test": "datum.value == 3", "value": 3}], "value": 12},
            "domainColor": "#000", "domainWidth": 6, "offset": 3,
            "tickColor": "#000",
            "tickSize": {"condition": {"test": "datum.value % 1 == 0", "value": 17}, "value": 11},
            "tickWidth": {"condition": {"test": "datum.value % 1 == 0", "value": 2.5}, "value": 1.5},
            "grid": false, "title": null
          }},
        "y": {"field": "count", "type": "quantitative", "scale": {"domain": [0, 1], "nice": false}, "axis": null}
      },
      "layer": [
        {"transform": [{"filter": "datum.series == 'ctrl'"}], "mark": {"type": "area", "color": "#b7bcba", "interpolate": "monotone", "clip": true}},
        {"transform": [{"filter": "datum.series == 'stain'"}], "mark": {"type": "line", "color": "#f2231c", "strokeWidth": 6, "interpolate": "monotone", "clip": true}}
      ]
    }
  ]
}
